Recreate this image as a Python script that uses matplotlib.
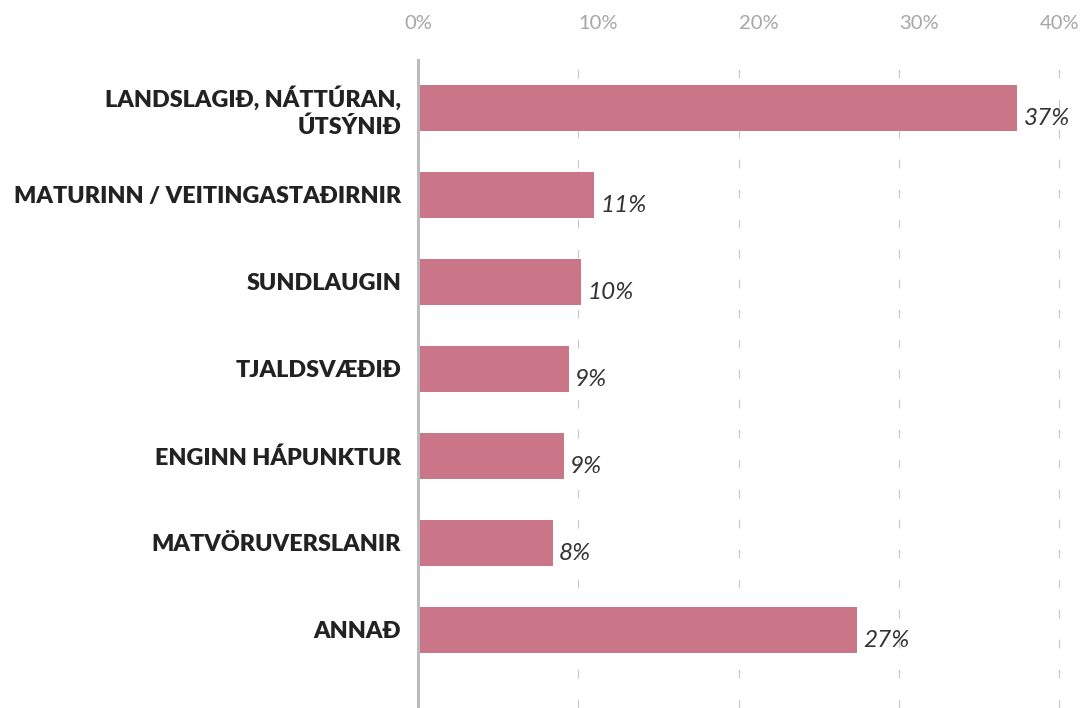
import matplotlib.pyplot as plt

# Gögn
categories = ['LANDSLAGIÐ, NÁTTÚRAN,\nÚTSÝNIÐ', 'MATURINN / VEITINGASTAÐIRNIR', 'SUNDLAUGIN',
              'TJALDSVÆÐIÐ', 'ENGINN HÁPUNKTUR', 'MATVÖRUVERSLANIR', 'ANNAÐ']
values = [37.4, 11.0, 10.2, 9.4, 9.1, 8.4, 27.4]
ticks = [0, 10, 20, 30, 40]
tick_labels = ['0%', '10%', '20%', '30%', '40%']

plt.rcParams['font.family'] = ['Lato', 'DejaVu Sans']

fig = plt.figure(figsize=(10.88, 7.08), dpi=100)
ax = fig.add_axes([418 / 1088, 0, 670 / 1088, 648 / 708])

y = list(range(len(categories)))
ax.barh(y, values, height=0.53, color='#cb7589', zorder=3)

for yi, v in zip(y, values):
    ax.text(v + 0.4, yi + 0.12, f'{round(v)}%', va='center', ha='left',
            fontsize=17.5, style='italic', color='#333333', zorder=4)

ax.set_xlim(0, 41.8)
ax.set_ylim(6.9, -0.55)

ax.set_yticks(y)
ax.set_yticklabels(categories, fontsize=16.8, fontweight='heavy', color='#222222',
                   ha='right', linespacing=1.3)
ax.tick_params(axis='y', length=0, pad=12)

ax.xaxis.tick_top()
ax.set_xticks(ticks)
ax.set_xticklabels(tick_labels, fontsize=14.5, color='#a6a6a6')
ax.tick_params(axis='x', length=0, pad=20)
for lab in ax.get_xticklabels()[1:-1]:
    lab.set_ha('left')

ax.grid(axis='x', color='#cccccc', linewidth=0.9, linestyle=(0, (7, 17)), zorder=0)
ax.grid(axis='y', visible=False)

for s in ['top', 'right', 'bottom']:
    ax.spines[s].set_visible(False)
ax.spines['left'].set_color('#bbbbbb')
ax.spines['left'].set_linewidth(2.2)
ax.spines['left'].set_zorder(5)

fig.savefig('out.png', dpi=100)
